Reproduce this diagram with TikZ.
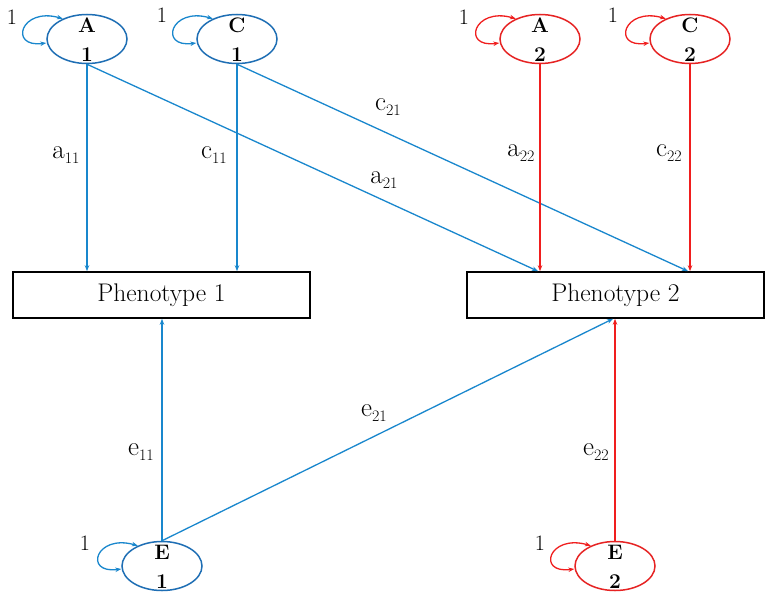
\documentclass[tikz,border=0pt]{standalone}
\usetikzlibrary{arrows.meta,shapes.geometric}
\definecolor{lineblue}{RGB}{25,135,205}
\definecolor{ellblue}{RGB}{30,110,180}
\definecolor{linered}{RGB}{240,30,30}
\definecolor{ellred}{RGB}{230,35,35}
\newcommand{\pathsub}[2]{#1\raisebox{-5pt}{\fontsize{16}{16}\selectfont #2}}
\newcommand{\latxt}[2]{\makebox[0pt]{\raisebox{6.5pt}[0pt][0pt]{#1}}\makebox[0pt]{\raisebox{-22.5pt}[0pt][0pt]{#2}}}
\tikzset{
  lat/.style={ellipse, line width=1.5pt, minimum width=80pt, minimum height=49pt,
    inner sep=0pt, font=\fontsize{21}{24}\selectfont\bfseries},
  latb/.style={lat, draw=ellblue},
  latr/.style={lat, draw=ellred},
  pheno/.style={draw=black, line width=1.6pt, minimum width=297pt, minimum height=46pt,
    inner sep=0pt, font=\fontsize{25.5}{30}\selectfont},
  tip/.tip={Stealth[length=6pt,width=4.5pt]},
  pthb/.style={line width=1.3pt, draw=lineblue, -tip},
  pthr/.style={line width=1.3pt, draw=linered, -tip},
  loopb/.style={line width=1.3pt, draw=lineblue, tip-tip},
  loopr/.style={line width=1.3pt, draw=linered, tip-tip},
  lbl/.style={font=\fontsize{27}{30}\selectfont, inner sep=0pt},
  one/.style={font=\fontsize{22}{24}\selectfont, inner sep=0pt},
}
\begin{document}
\begin{tikzpicture}[x=1pt,y=-1pt]
\useasboundingbox[fill=white] (0,0) rectangle (770,599);
% latent variables
\node[latb] (A1) at (87,39) {\latxt{A}{1}};
\node[latb] (C1) at (237,39) {\latxt{C}{1}};
\node[latr] (A2) at (540,39) {\latxt{A}{2}};
\node[latr] (C2) at (690,39) {\latxt{C}{2}};
\node[latb] (E1) at (162,566) {\latxt{E}{1}};
\node[latr] (E2) at (615,566) {\latxt{E}{2}};
% phenotypes
\node[pheno] (P1) at (161.5,295) {Phenotype 1};
\node[pheno] (P2) at (615.5,295) {Phenotype 2};
% paths
\draw[pthb] (A1.south) -- (A1.south |- P1.north);
\draw[pthb] (C1.south) -- (C1.south |- P1.north);
\draw[pthb] (A1.south) -- ([xshift=-2pt]A2.south |- P2.north);
\draw[pthb] (C1.south) -- ([xshift=-2pt]C2.south |- P2.north);
\draw[pthr] (A2.south) -- (A2.south |- P2.north);
\draw[pthr] (C2.south) -- (C2.south |- P2.north);
\draw[pthb] (E1.north) -- (E1.north |- P1.south);
\draw[pthb] (E1.north) -- ([xshift=-2pt]E2.north |- P2.south);
\draw[pthr] (E2.north) -- (E2.north |- P2.south);
% variance loops
\draw[loopb] ([yshift=-4pt]A1.west) .. controls +(-38,5) and +(-42,-12) .. (A1.140);
\draw[loopb] ([yshift=-4pt]C1.west) .. controls +(-38,5) and +(-42,-12) .. (C1.140);
\draw[loopr] ([yshift=-4pt]A2.west) .. controls +(-38,5) and +(-42,-12) .. (A2.140);
\draw[loopr] ([yshift=-4pt]C2.west) .. controls +(-38,5) and +(-42,-12) .. (C2.140);
\draw[loopb] ([yshift=-3pt]E1.west) .. controls +(-38,5) and +(-42,-12) .. (E1.140);
\draw[loopr] ([yshift=-3pt]E2.west) .. controls +(-38,5) and +(-42,-12) .. (E2.140);
% variance labels
\node[one] (vA1) at (12,17) {1};
\node[one] (vC1) at (162,15) {1};
\node[one] (vA2) at (464,17) {1};
\node[one] (vC2) at (613,15) {1};
\node[one] (vE1) at (85,543) {1};
\node[one] (vE2) at (540,543) {1};
% path labels
\node[lbl] (la11) at (66,155) {\pathsub{a}{11}};
\node[lbl] (lc11) at (214,155) {\pathsub{c}{11}};
\node[lbl] (lc21) at (388,107) {\pathsub{c}{21}};
\node[lbl] (la21) at (384,180) {\pathsub{a}{21}};
\node[lbl] (la22) at (521,153) {\pathsub{a}{22}};
\node[lbl] (lc22) at (669,153) {\pathsub{c}{22}};
\node[lbl] (le11) at (141,452) {\pathsub{e}{11}};
\node[lbl] (le21) at (374,413) {\pathsub{e}{21}};
\node[lbl] (le22) at (596,452) {\pathsub{e}{22}};
\end{tikzpicture}
\end{document}
